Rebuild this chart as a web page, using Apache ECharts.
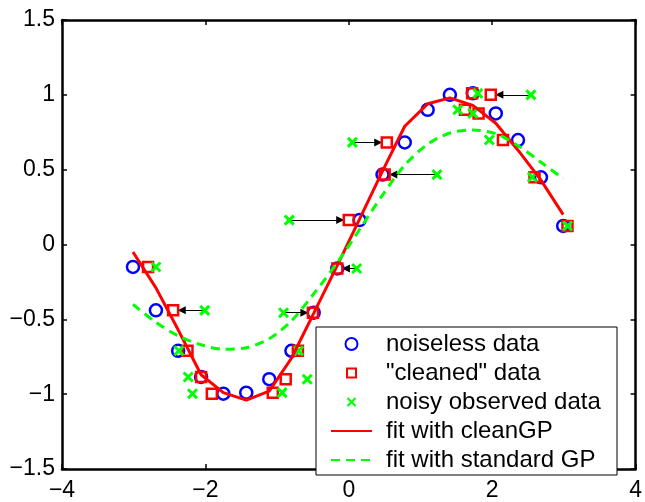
<!DOCTYPE html>
<html>
<head>
<meta charset="utf-8">
<script src="https://cdn.jsdelivr.net/npm/echarts@6/dist/echarts.min.js"></script>
<style>
  html, body { margin: 0; padding: 0; background: #fff; }
  #chart { width: 645px; height: 502px; }
</style>
</head>
<body>
<div id="chart"></div>
<script>
// values
var noiselessX = [-3.01, -2.69, -2.38, -2.06, -1.75, -1.43, -1.11, -0.80, -0.49, -0.16,
                  0.15, 0.47, 0.78, 1.10, 1.41, 1.73, 2.05, 2.36, 2.68, 2.99];
var dataY = [-0.15, -0.44, -0.71, -0.885, -0.997, -0.99, -0.90, -0.71, -0.456, -0.16,
             0.163, 0.467, 0.682, 0.90, 1.0, 1.01, 0.876, 0.698, 0.449, 0.124];
var cleanedX = [-2.80, -2.45, -2.25, -2.06, -1.91, -1.06, -0.88, -0.71, -0.50, -0.16,
                0.00, 0.50, 0.53, 1.62, 1.98, 1.72, 1.81, 2.15, 2.59, 3.05];
var noisyX = [-2.69, -2.01, -2.37, -2.24, -2.18, -0.93, -0.58, -0.70, -0.91, 0.11,
              -0.83, 1.23, 0.05, 1.52, 2.54, 1.80, 1.73, 1.96, 2.56, 3.05];
var cleanGP = [-0.05, -0.29, -0.57, -0.87, -0.99, -1.04, -0.98, -0.76, -0.46, -0.14,
               0.17, 0.49, 0.79, 0.94, 0.98, 0.93, 0.81, 0.63, 0.43, 0.20];
var standardGP = [-0.40, -0.52, -0.61, -0.67, -0.70, -0.69, -0.63, -0.51, -0.33, -0.12,
                  0.10, 0.33, 0.53, 0.67, 0.745, 0.765, 0.74, 0.66, 0.55, 0.44];
// points that get an arrow from noisy to cleaned
var arrowIdx = [1, 8, 9, 10, 11, 12, 14];

var names = ['noiseless data', '"cleaned" data', 'noisy observed data',
             'fit with cleanGP', 'fit with standard GP'];

function pairs(xs, ys) {
    return xs.map(function (x, i) { return [x, ys[i]]; });
}

var arrowGap = 0.12;
var arrows = arrowIdx.map(function (i) {
    var dir = noisyX[i] > cleanedX[i] ? 1 : -1;
    return { coords: [[noisyX[i], dataY[i]], [cleanedX[i] + dir * arrowGap, dataY[i]]] };
});

var font = 'Liberation Sans, Arial, Helvetica, sans-serif';
function minus(v) { return String(v).replace('-', '\u2212'); }

var axisCommon = {
    type: 'value',
    axisLine: { show: true, onZero: false, lineStyle: { color: '#000', width: 2.5 } },
    axisTick: { show: true, inside: true, length: 5, lineStyle: { color: '#000', width: 1.5 } },
    splitLine: { show: false }
};

var myChart = echarts.init(document.getElementById('chart'));
var option = {
    animation: false,
    backgroundColor: '#fff',
    grid: { left: 62, right: 5, top: 20, bottom: 27, containLabel: false },
    xAxis: [
        Object.assign({}, axisCommon, {
            min: -4, max: 4, interval: 2, position: 'bottom',
            axisLabel: { color: '#000', fontSize: 23, fontFamily: font, margin: 10, formatter: minus }
        }),
        Object.assign({}, axisCommon, {
            min: -4, max: 4, interval: 2, position: 'top',
            axisLabel: { show: false }
        })
    ],
    yAxis: [
        Object.assign({}, axisCommon, {
            min: -1.5, max: 1.5, interval: 0.5, position: 'left',
            axisLabel: { color: '#000', fontSize: 23, fontFamily: font, margin: 7, formatter: minus }
        }),
        Object.assign({}, axisCommon, {
            min: -1.5, max: 1.5, interval: 0.5, position: 'right',
            axisLabel: { show: false }
        })
    ],
    legend: {
        orient: 'vertical',
        left: 330,
        top: 332,
        padding: 0,
        itemWidth: 41,
        itemHeight: 12,
        itemGap: 5,
        z: 10,
        data: [
            { name: names[0] },
            { name: names[1], icon: 'path://M0,0M12,12M1.5,1.5L10.5,1.5L10.5,10.5L1.5,10.5Z' },
            { name: names[2], icon: 'path://M0,0M12,12M2,2L10,10M10,2L2,10' },
            { name: names[3], itemStyle: { opacity: 0 } },
            { name: names[4], itemStyle: { opacity: 0 } }
        ],
        textStyle: { color: '#000', fontSize: 24, fontFamily: font, padding: [0, 0, 0, 9] }
    },
    graphic: [{
        type: 'rect',
        z: 3,
        shape: { x: 316, y: 327, width: 301, height: 148 },
        style: { fill: '#fff', stroke: '#000', lineWidth: 1 }
    }],
    series: [
        {
            type: 'lines',
            coordinateSystem: 'cartesian2d',
            symbol: ['none', 'triangle'],
            symbolSize: 8,
            lineStyle: { color: '#000', width: 1, opacity: 1 },
            data: arrows,
            silent: true
        },
        {
            name: names[0],
            type: 'scatter',
            symbol: 'circle',
            symbolSize: 12,
            itemStyle: { color: 'rgba(0,0,0,0)', borderColor: '#0000ff', borderWidth: 2.5, opacity: 1 },
            data: pairs(noiselessX, dataY)
        },
        {
            name: names[1],
            type: 'scatter',
            symbol: 'rect',
            symbolSize: 10,
            itemStyle: { color: 'rgba(0,0,0,0)', borderColor: '#ff0000', borderWidth: 2.5, opacity: 1 },
            data: pairs(cleanedX, dataY)
        },
        {
            name: names[2],
            type: 'scatter',
            symbol: 'path://M0,0L10,10M10,0L0,10',
            symbolKeepAspect: true,
            symbolSize: 9,
            itemStyle: { color: 'rgba(0,0,0,0)', borderColor: '#00ff00', borderWidth: 3, opacity: 1 },
            data: pairs(noisyX, dataY)
        },
        {
            name: names[3],
            type: 'line',
            symbol: 'none',
            showSymbol: false,
            lineStyle: { color: '#ff0000', width: 3 },
            itemStyle: { color: '#ff0000' },
            data: pairs(noiselessX, cleanGP)
        },
        {
            name: names[4],
            type: 'line',
            symbol: 'none',
            showSymbol: false,
            smooth: 0.3,
            lineStyle: { color: '#00ff00', width: 3, type: [9, 6] },
            itemStyle: { color: '#00ff00' },
            data: pairs(noiselessX, standardGP)
        }
    ]
};
myChart.setOption(option);
window.addEventListener('resize', function () {
    myChart.resize();
});
</script>
</body>
</html>
